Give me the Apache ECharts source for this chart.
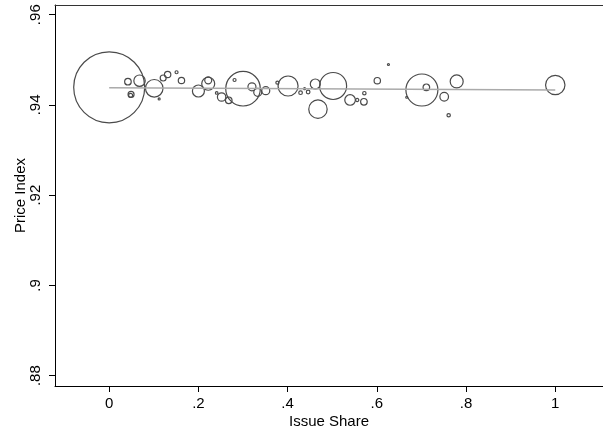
<!DOCTYPE html>
<html>
<head>
<meta charset="utf-8">
<script src="https://cdn.jsdelivr.net/npm/echarts@6/dist/echarts.min.js"></script>
<style>
html,body{margin:0;padding:0;background:#fff;}
#chart{width:603px;height:435px;}
</style>
</head>
<body>
<div id="chart"></div>
<script>
// Issue share (x), price index (y), issue weight (bubble area)
var issueShare = [0.000,0.042,0.068,0.101,0.121,0.131,0.151,0.162,0.112,0.049,0.048,0.200,0.222,0.222,0.241,0.252,0.268,0.300,0.281,0.320,0.333,0.351,0.377,0.401,0.429,0.438,0.446,0.462,0.502,0.468,0.540,0.556,0.571,0.572,0.601,0.626,0.701,0.711,0.779,0.751,0.761,0.667,1.000];
var priceIndex = [0.9439,0.94515,0.94537,0.94369,0.94597,0.94675,0.94724,0.94542,0.94132,0.94232,0.9421,0.94309,0.94469,0.94546,0.94265,0.94176,0.94103,0.9436,0.94553,0.94402,0.9428,0.94316,0.94493,0.9442,0.94271,0.9436,0.94287,0.94464,0.9442,0.93906,0.9411,0.9411,0.9407,0.9426,0.94537,0.94896,0.94331,0.94391,0.9452,0.94181,0.93771,0.9417,0.94442];
var issueWeight = [100,0.86,2.58,6.15,0.71,0.81,0.18,0.81,0.08,0.71,0.32,2.86,3.35,0.97,0.13,1.40,0.86,23.75,0.18,1.27,1.27,1.27,0.18,7.94,0.26,0.08,0.26,1.98,14.46,6.72,2.23,0.20,0.86,0.23,0.81,0.08,20.3,0.86,3.35,1.47,0.23,0.08,7.47];
var fitX = [0, 1];
var fitY = [0.94382, 0.94331];
var xTicks = [0, 0.2, 0.4, 0.6, 0.8, 1];
var xTickLabels = ['0', '.2', '.4', '.6', '.8', '1'];
var yTicks = [0.88, 0.90, 0.92, 0.94, 0.96];
var yTickLabels = ['.88', '.9', '.92', '.94', '.96'];

var bubbles = issueShare.map(function (x, i) { return [x, priceIndex[i], issueWeight[i]]; });
var fitLine = fitX.map(function (x, i) { return [x, fitY[i]]; });

function lookup(ticks, labels, v) {
  for (var i = 0; i < ticks.length; i++) { if (Math.abs(ticks[i] - v) < 1e-9) return labels[i]; }
  return '';
}

var chart = echarts.init(document.getElementById('chart'), null, {renderer: 'canvas'});
var FONT = '"Liberation Sans", Arial, Helvetica, sans-serif';
var XMIN = -0.1215, XMAX = 1.107;
chart.setOption({
  animation: false,
  backgroundColor: '#fff',
  grid: {left: 55, right: 0, top: 5, bottom: 49, containLabel: false, outerBoundsMode: 'none'},
  xAxis: [{
    type: 'value', min: XMIN, max: XMAX,
    name: 'Issue Share', nameLocation: 'middle', nameGap: 28, nameMoveOverlap: false,
    nameTextStyle: {fontFamily: FONT, fontSize: 15, color: '#000'},
    axisLine: {show: true, onZero: false, lineStyle: {color: '#000', width: 1}},
    axisTick: {show: true, length: 6, lineStyle: {color: '#000'}, customValues: xTicks},
    axisLabel: {fontFamily: FONT, fontSize: 15, color: '#000', margin: 10, customValues: xTicks,
      formatter: function (v) { return lookup(xTicks, xTickLabels, v); }},
    splitLine: {show: false}
  }, {
    type: 'value', position: 'top', min: XMIN, max: XMAX,
    axisLine: {show: true, onZero: false, lineStyle: {color: '#333', width: 1}},
    axisTick: {show: false}, axisLabel: {show: false}, splitLine: {show: false}
  }],
  yAxis: {
    type: 'value', min: 0.8777, max: 0.96215,
    name: 'Price Index', nameLocation: 'middle', nameGap: 27, nameRotate: 90, nameMoveOverlap: false,
    nameTextStyle: {fontFamily: FONT, fontSize: 15, color: '#000'},
    axisLine: {show: true, onZero: false, lineStyle: {color: '#000', width: 1}},
    axisTick: {show: true, length: 6, lineStyle: {color: '#000'}, customValues: yTicks},
    axisLabel: {fontFamily: FONT, fontSize: 15, color: '#000', rotate: 90, margin: 12, customValues: yTicks,
      formatter: function (v) { return lookup(yTicks, yTickLabels, v); }},
    splitLine: {show: false}
  },
  series: [
    {
      type: 'scatter', data: bubbles, silent: true, xAxisIndex: 0,
      symbol: 'circle',
      symbolSize: function (d) { return 7.1 * Math.sqrt(d[2]); },
      itemStyle: {color: 'rgba(0,0,0,0)', borderColor: '#4a4a4a', borderWidth: 1.2, opacity: 1},
      z: 2
    },
    {
      type: 'line', data: fitLine, silent: true, symbol: 'none', xAxisIndex: 0,
      lineStyle: {color: '#aaa', width: 1.5},
      z: 3
    }
  ]
});
</script>
</body>
</html>
